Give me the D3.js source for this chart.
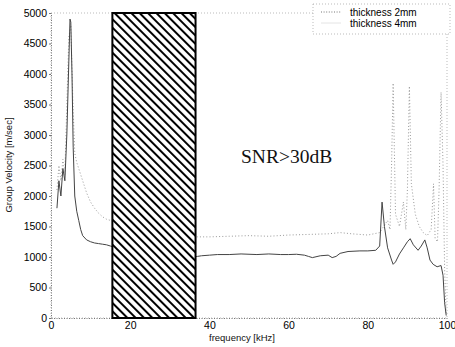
<!DOCTYPE html>
<html lang="en">
<head>
<meta charset="utf-8">
<title>Group velocity vs frequency</title>
<script src="https://d3js.org/d3.v7.min.js"></script>
<style>
  body { margin: 0; background: #fff; }
  text { font-family: "Liberation Sans", Arial, sans-serif; }
</style>
</head>
<body>
<script>
"use strict";

// frequency [kHz] / group velocity [m/sec]
const freq4 = [1.5, 2, 2.5, 3, 3.5, 4, 4.5, 4.8, 5, 5.3, 5.6, 6, 6.5, 7, 7.5, 8, 9, 10, 11, 12, 13, 14, 15, 16,
  36, 37, 38, 40, 42, 45, 48, 50, 52, 55, 58, 60, 62, 64, 65, 66, 68, 70, 71, 72, 73, 75, 78, 80, 82, 83,
  83.6, 84.2, 85, 86, 86.4, 87, 88, 89, 90, 90.7, 91.5, 92.7, 93.5, 94.4, 95, 95.7, 96.5, 97.5, 98.5, 99, 99.4, 99.8];
const vel4 = [1800, 2250, 2000, 2450, 2250, 3000, 4200, 4900, 4850, 4000, 2800, 2000, 1750, 1600, 1450, 1350, 1280, 1250, 1230, 1220, 1210, 1200, 1180, 1160,
  1000, 1010, 1020, 1030, 1040, 1040, 1050, 1045, 1040, 1050, 1040, 1040, 1045, 1030, 1010, 990, 1020, 1030, 990, 1010, 1060, 1090, 1100, 1100, 1110, 1180,
  1900, 1500, 1150, 950, 880, 920, 1050, 1150, 1250, 1300, 1200, 1110, 1180, 1280, 1150, 950, 880, 840, 860, 700, 250, 40];

const freq2 = [1.5, 2, 2.5, 3, 3.5, 4, 4.5, 5, 5.5, 6, 6.5, 7, 8, 9, 10, 11, 12, 13, 14, 15, 16,
  36, 40, 45, 50, 55, 60, 65, 70, 73, 76, 80, 83, 84, 85, 85.6, 86, 86.4, 87, 88, 89, 89.6, 90, 90.5, 91, 92, 93, 94, 95,
  96, 96.6, 97, 97.6, 98, 98.5, 99, 99.4, 99.8];
const vel2 = [2100, 2500, 2250, 2600, 2350, 3500, 4600, 4800, 3600, 2700, 2550, 2450, 2250, 2050, 1900, 1800, 1720, 1660, 1620, 1600, 1580,
  1330, 1330, 1340, 1350, 1340, 1360, 1370, 1380, 1400, 1380, 1360, 1400, 1500, 1600, 1450, 2500, 3850, 1700, 1500, 1900, 1450, 2100, 3800, 2200, 1700, 1500, 1400, 1350,
  1450, 2200, 1300, 1250, 2100, 3700, 2500, 800, 60];

const seriesNames = ["thickness 2mm", "thickness 4mm"];
const xTicks = [0, 20, 40, 60, 80, 100];
const yTicks = [0, 500, 1000, 1500, 2000, 2500, 3000, 3500, 4000, 4500, 5000];
const snrBand = [15.5, 36.5];
const bandLabel = "SNR>30dB";

const w = 455, h = 347;
const x = d3.scaleLinear().domain([0, 100]).range([51, 447]);
const y = d3.scaleLinear().domain([0, 5000]).range([318, 13]);

const svg = d3.select("body").append("svg")
  .attr("width", w)
  .attr("height", h);

// hatch pattern for the band
svg.append("defs").append("pattern")
  .attr("id", "hatch")
  .attr("patternUnits", "userSpaceOnUse")
  .attr("width", 5.9)
  .attr("height", 5.9)
  .attr("patternTransform", "rotate(-45)")
  .append("line")
    .attr("x1", 1).attr("y1", 0)
    .attr("x2", 1).attr("y2", 5.9)
    .attr("stroke", "#000")
    .attr("stroke-width", 2);

// frame (dotted, faint like the scan)
svg.append("rect")
  .attr("x", x(0)).attr("y", y(5000))
  .attr("width", x(100) - x(0)).attr("height", y(0) - y(5000))
  .attr("fill", "none")
  .attr("stroke", "#aaa")
  .attr("stroke-width", 0.8)
  .attr("stroke-dasharray", "1,2");

// axes
const yAxis = svg.append("g")
  .attr("transform", "translate(" + x(0) + ",0)")
  .call(d3.axisLeft(y).tickValues(yTicks).tickFormat(d3.format("d")).tickSize(2).tickPadding(2));
const xAxis = svg.append("g")
  .attr("transform", "translate(0," + y(0) + ")")
  .call(d3.axisBottom(x).tickValues(xTicks).tickFormat(d3.format("d")).tickSize(0).tickPadding(4));

[yAxis, xAxis].forEach(function(a) {
  a.select(".domain").attr("stroke", "#777").attr("stroke-dasharray", "1,1.5");
  a.selectAll(".tick line").attr("stroke", "#777");
  a.selectAll("text")
    .attr("fill", "#000")
    .style("font-size", "10.5px")
    .style("font-family", "'Liberation Sans', Arial, sans-serif");
});
xAxis.selectAll(".tick line").remove();

// curves
const line = d3.line()
  .x(function(d) { return x(d[0]); })
  .y(function(d) { return y(d[1]); });

svg.append("path")
  .datum(d3.zip(freq2, vel2))
  .attr("d", line)
  .attr("fill", "none")
  .attr("stroke", "#999")
  .attr("stroke-width", 1)
  .attr("stroke-dasharray", "1,2.2");

svg.append("path")
  .datum(d3.zip(freq4, vel4))
  .attr("d", line)
  .attr("fill", "none")
  .attr("stroke", "#444")
  .attr("stroke-width", 1);

// SNR band
svg.append("rect")
  .attr("x", x(snrBand[0]))
  .attr("y", y(5000))
  .attr("width", x(snrBand[1]) - x(snrBand[0]))
  .attr("height", y(0) - y(5000))
  .attr("fill", "#fff");
svg.append("rect")
  .attr("x", x(snrBand[0]))
  .attr("y", y(5000))
  .attr("width", x(snrBand[1]) - x(snrBand[0]))
  .attr("height", y(0) - y(5000))
  .attr("fill", "url(#hatch)")
  .attr("stroke", "#000")
  .attr("stroke-width", 2);

svg.append("text")
  .attr("x", 241)
  .attr("y", 163)
  .style("font-family", "'Liberation Serif', 'Times New Roman', serif")
  .style("font-size", "19.5px")
  .attr("fill", "#111")
  .text(bandLabel);

// legend
const lg = svg.append("g").attr("transform", "translate(313,4)");
lg.append("rect")
  .attr("width", 137).attr("height", 30)
  .attr("fill", "#fff")
  .attr("stroke", "#aaa")
  .attr("stroke-width", 0.8)
  .attr("stroke-dasharray", "1,2");
const styles = [{ c: "#777", dash: "1,1.6" }, { c: "#e4e4e4", dash: null }];
seriesNames.forEach(function(name, i) {
  lg.append("line")
    .attr("x1", 8).attr("x2", 28)
    .attr("y1", 8 + i * 11).attr("y2", 8 + i * 11)
    .attr("stroke", styles[i].c)
    .attr("stroke-dasharray", styles[i].dash);
  lg.append("text")
    .attr("x", 37).attr("y", 11.5 + i * 11)
    .style("font-size", "10px")
    .attr("fill", "#000")
    .text(name);
});

// axis titles
svg.append("text")
  .attr("transform", "translate(12,165) rotate(-90)")
  .attr("text-anchor", "middle")
  .style("font-size", "9.5px")
  .attr("fill", "#111")
  .text("Group Velocity [m/sec]");
svg.append("text")
  .attr("x", 242).attr("y", 341)
  .attr("text-anchor", "middle")
  .style("font-size", "9.5px")
  .attr("fill", "#111")
  .text("frequency [kHz]");
</script>
</body>
</html>
